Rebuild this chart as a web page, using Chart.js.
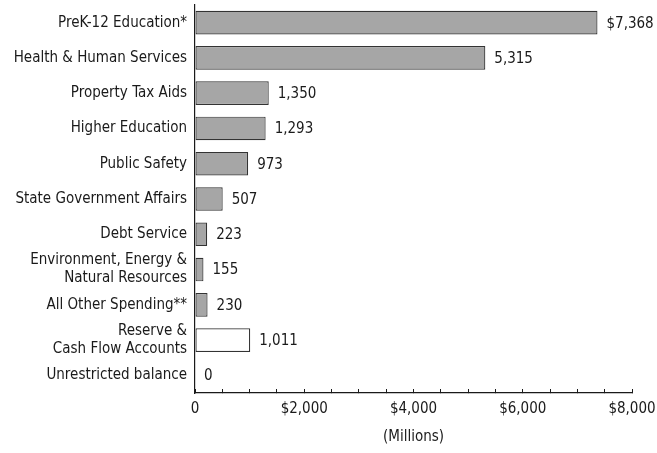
<!DOCTYPE html>
<html>
<head>
<meta charset="utf-8">
<script src="https://cdn.jsdelivr.net/npm/chart.js@4/dist/chart.umd.min.js"></script>
<style>
  html, body { margin: 0; padding: 0; background: #fff; }
  #wrap { width: 657px; height: 453px; position: relative; }
</style>
</head>
<body>
<div id="wrap"><canvas id="chart"></canvas></div>
<script>
/* DATA */
const categories = [
  "PreK-12 Education*",
  "Health & Human Services",
  "Property Tax Aids",
  "Higher Education",
  "Public Safety",
  "State Government Affairs",
  "Debt Service",
  ["Environment, Energy &", "Natural Resources"],
  "All Other Spending**",
  ["Reserve &", "Cash Flow Accounts"],
  "Unrestricted balance",
];
const amounts = [7368, 5315, 1350, 1293, 973, 507, 223, 155, 230, 1011, 0];
// first 9 are spending, last 2 are balances (drawn hollow)
const spendingCount = 9;
const xTickLabels = ["0", "$2,000", "$4,000", "$6,000", "$8,000"];

/* STYLE */
const FONT = "'DejaVu Sans Condensed', 'Liberation Sans Narrow', sans-serif";
const TEXT = "#1a1a1a";
const AXIS = "#1a1a1a";
const FS = 15;

Chart.defaults.font.family = FONT;
Chart.defaults.font.size = FS;
Chart.defaults.color = TEXT;

/* VALUE LABELS */
const valueLabels = {
  id: "valueLabels",
  afterDatasetsDraw(chart) {
    const ctx = chart.ctx;
    const meta = chart.getDatasetMeta(0);
    ctx.save();
    ctx.font = FS + "px " + FONT;
    ctx.fillStyle = TEXT;
    ctx.textAlign = "left";
    ctx.textBaseline = "middle";
    meta.data.forEach((bar, i) => {
      const v = amounts[i];
      const txt = (i === 0 ? "$" : "") + v.toLocaleString("en-US");
      ctx.fillText(txt, bar.x + 9, bar.y + 1);
    });
    ctx.restore();
  },
};

new Chart(document.getElementById("chart"), {
  type: "bar",
  data: {
    labels: categories,
    datasets: [{
      data: amounts,
      backgroundColor: (c) => (c.dataIndex < spendingCount ? "#a6a6a6" : "#ffffff"),
      borderColor: "#333333",
      borderWidth: 1.2,
      borderSkipped: false,
      barPercentage: 0.67,
      categoryPercentage: 1,
    }],
  },
  options: {
    indexAxis: "y",
    responsive: true,
    maintainAspectRatio: false,
    animation: false,
    layout: { padding: { left: 0, right: 25, top: 5, bottom: 0 } },
    plugins: { legend: { display: false }, tooltip: { enabled: false } },
    scales: {
      y: {
        grid: { display: false, drawTicks: false },
        border: { display: true, color: AXIS, width: 1.2 },
        ticks: {
          autoSkip: false,
          padding: 8,
          color: TEXT,
          font: { size: FS, lineHeight: 1.2 },
        },
        afterFit: (s) => {
          s.width = 195;
          s.paddingTop = 0;
          s.paddingBottom = 0;
        },
      },
      x: {
        min: 0,
        max: 8000,
        grid: {
          drawOnChartArea: false,
          drawTicks: true,
          tickLength: -4,
          color: AXIS,
          lineWidth: 1,
        },
        border: { display: true, color: AXIS, width: 1.2 },
        ticks: {
          stepSize: 500,
          autoSkip: false,
          maxRotation: 0,
          padding: 11,
          color: TEXT,
          font: { size: FS },
          callback: (v) => (v % 2000 === 0 ? xTickLabels[v / 2000] : ""),
        },
        title: {
          display: true,
          text: "(Millions)",
          color: TEXT,
          font: { size: FS },
          padding: { top: 0, bottom: 7 },
        },
        afterFit: (s) => {
          s.height = 60;
          s.paddingLeft = 0;
          s.paddingRight = 0;
        },
      },
    },
  },
  plugins: [valueLabels],
});
</script>
</body>
</html>
